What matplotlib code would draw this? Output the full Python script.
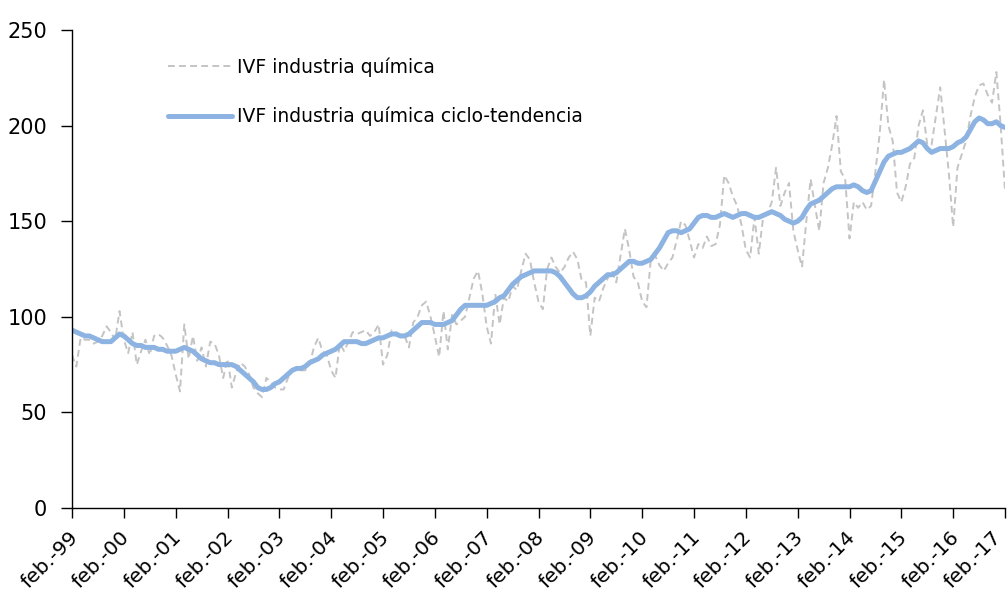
import matplotlib
matplotlib.use('Agg')
import matplotlib.pyplot as plt
import matplotlib.transforms as mtransforms
import numpy as np

# Datos mensuales feb-99 .. feb-17
ivf_raw = [
    80, 74, 89, 88, 88, 86, 87, 90, 95, 92, 88, 103,
    88, 81, 92, 75, 82, 88, 80, 90, 91, 89, 85, 80,
    70, 61, 96, 78, 90, 77, 84, 74, 87, 86, 80, 68,
    78, 63, 71, 76, 74, 70, 63, 60, 58, 68, 66, 63,
    62, 62, 68, 72, 73, 72, 72, 75, 84, 89, 82, 80,
    72, 68, 86, 82, 87, 92, 91, 92, 93, 90, 92, 96,
    75, 80, 93, 92, 90, 90, 84, 97, 100, 106, 108, 100,
    90, 79, 103, 83, 101, 96, 98, 100, 110, 120, 124, 112,
    95, 86, 112, 96, 110, 108, 116, 114, 124, 133, 130, 118,
    108, 104, 125, 131, 126, 123, 126, 131, 134, 130, 119, 118,
    90, 110, 108, 115, 120, 124, 118, 132, 146, 135, 121, 118,
    108, 105, 130, 132, 127, 124, 128, 131, 140, 150, 148, 140,
    131, 138, 136, 142, 137, 138, 148, 174, 170, 163, 158, 148,
    135, 131, 152, 133, 152, 154, 160, 178, 158, 165, 170, 145,
    135, 126, 150, 172, 158, 145, 170, 178, 190, 205, 176, 172,
    141, 160, 157, 160, 156, 158, 176, 196, 224, 200, 192, 165,
    160, 168, 180, 183, 200, 208, 190, 190, 205, 220, 198, 175,
    147, 178, 185, 192, 205, 215, 221, 222, 216, 212, 228, 200,
    166,
]

ivf_trend = [
    93, 92, 91, 90, 90, 89, 88, 87, 87, 87, 89, 91,
    90, 88, 86, 85, 85, 84, 84, 84, 83, 83, 82, 82,
    82, 83, 84, 83, 82, 80, 78, 77, 76, 76, 75, 75,
    75, 75, 74, 72, 70, 68, 66, 63, 62, 62, 63, 65,
    66, 68, 70, 72, 73, 73, 74, 76, 77, 78, 80, 81,
    82, 83, 85, 87, 87, 87, 87, 86, 86, 87, 88, 89,
    89, 90, 91, 91, 90, 90, 91, 93, 95, 97, 97, 97,
    96, 96, 96, 97, 98, 101, 104, 106, 106, 106, 106, 106,
    106, 107, 108, 110, 111, 114, 117, 119, 121, 122, 123, 124,
    124, 124, 124, 124, 123, 121, 118, 115, 112, 110, 110, 111,
    113, 116, 118, 120, 122, 122, 123, 125, 127, 129, 129, 128,
    128, 129, 130, 133, 136, 140, 144, 145, 145, 144, 145, 146,
    149, 152, 153, 153, 152, 152, 153, 154, 153, 152, 153, 154,
    154, 153, 152, 152, 153, 154, 155, 154, 153, 151, 150, 149,
    150, 152, 156, 159, 160, 161, 163, 165, 167, 168, 168, 168,
    168, 169, 168, 166, 165, 166, 171, 176, 181, 184, 185, 186,
    186, 187, 188, 190, 192, 191, 188, 186, 187, 188, 188, 188,
    189, 191, 192, 194, 198, 202, 204, 203, 201, 201, 202, 200,
    199,
]

years = ['99', '00', '01', '02', '03', '04', '05', '06', '07', '08',
         '09', '10', '11', '12', '13', '14', '15', '16', '17']
tick_labels = ['feb.-' + y for y in years]

plt.rcParams['font.family'] = ['DejaVu Sans']

fig = plt.figure(figsize=(10.08, 5.95), dpi=100)
ax = fig.add_axes([72 / 1008, 1 - 508 / 595, 933 / 1008, 478 / 595])

meses = np.arange(len(ivf_raw))
ax.plot(meses, ivf_raw, color='#C4C4C4', linestyle=(0, (3.5, 2.2)), linewidth=1.4,
        label='IVF industria química')
ax.plot(np.arange(len(ivf_trend)), ivf_trend, color='#8DB3E2', linewidth=3.6,
        solid_capstyle='round', label='IVF industria química ciclo-tendencia')

ax.set_xlim(0, len(ivf_raw) - 1)
ax.set_ylim(0, 250)
ax.set_yticks(range(0, 251, 50))
ticks = np.arange(0, len(ivf_raw), 12)
ax.set_xticks(ticks)
ax.set_xticklabels([])

# etiquetas del eje x a mano (la última algo desplazada para que no se corte)
base = ax.get_xaxis_transform()
for i, (t, lab) in enumerate(zip(ticks, tick_labels)):
    dx = -7 if i == len(ticks) - 1 else 3
    off = mtransforms.ScaledTranslation(dx / 100, -26 / 100, fig.dpi_scale_trans)
    ax.text(t, 0, lab, transform=base + off, rotation=45, ha='right', va='center',
            rotation_mode='anchor', fontsize=14.5, clip_on=False)

for s in ['top', 'right']:
    ax.spines[s].set_visible(False)
for s in ['left', 'bottom']:
    ax.spines[s].set_color('black')
    ax.spines[s].set_linewidth(1.0)
ax.tick_params(axis='y', direction='out', length=8, width=1, labelsize=15, pad=10)
ax.tick_params(axis='x', direction='out', length=7, width=1)

leg = ax.legend(loc='upper left', bbox_to_anchor=(0.085, 0.978), frameon=False,
                fontsize=13.5, handlelength=3.4, handletextpad=0.25, labelspacing=1.6)

fig.savefig('out.png', dpi=100)
